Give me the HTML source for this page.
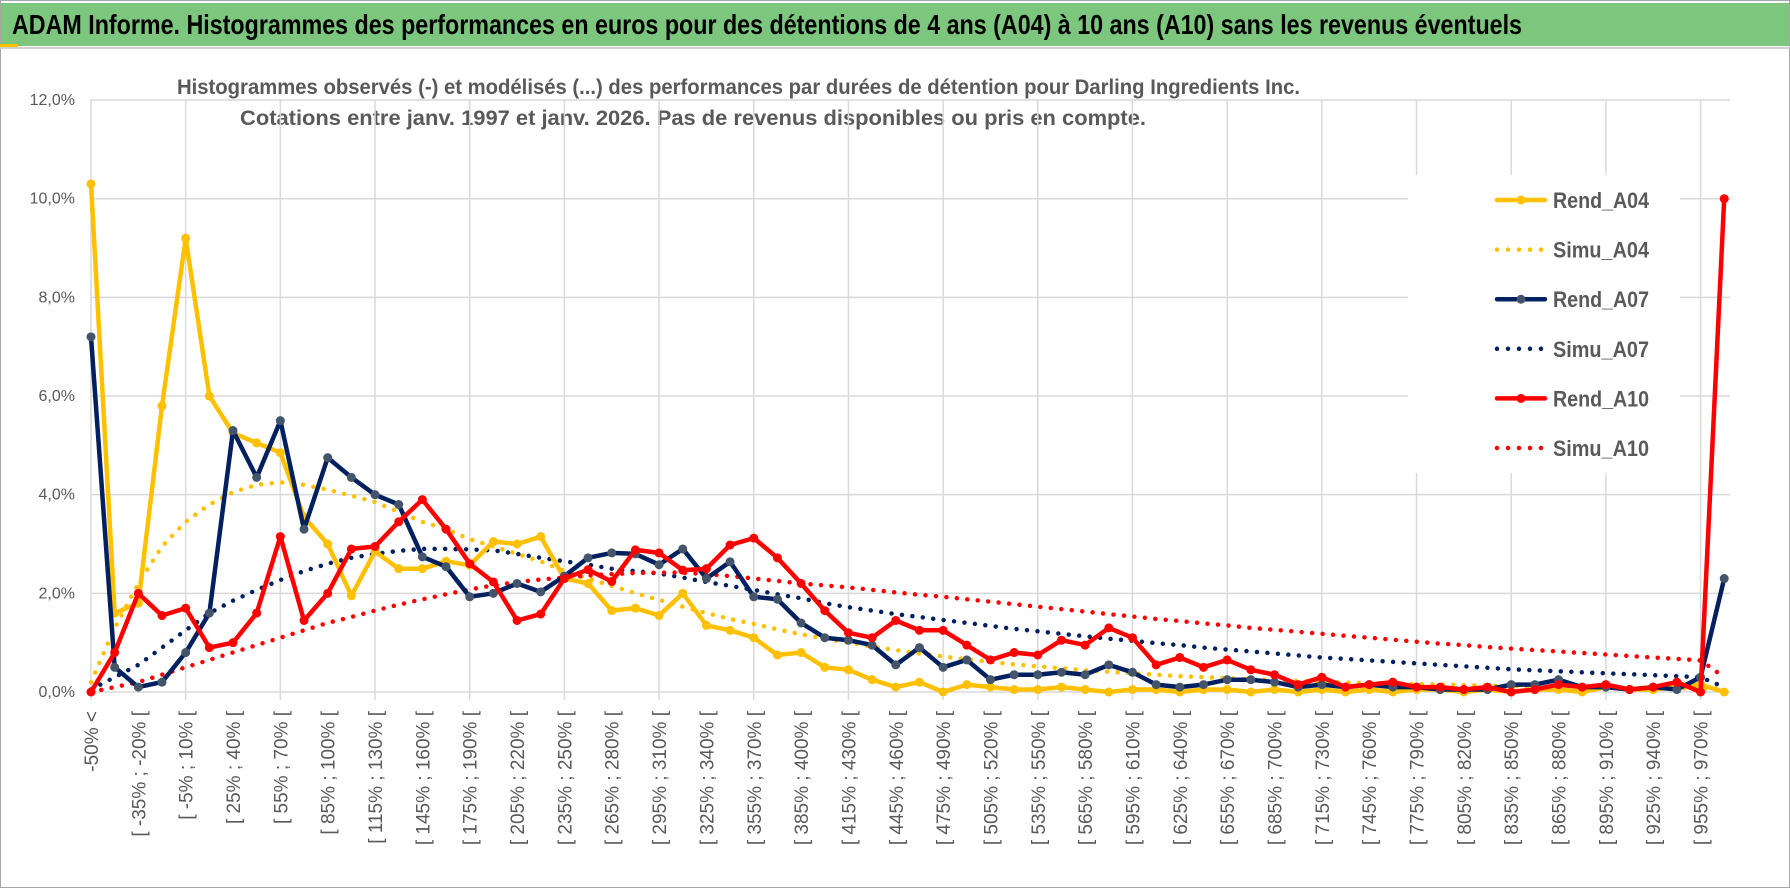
<!DOCTYPE html>
<html><head><meta charset="utf-8"><style>
html,body{margin:0;padding:0;background:#fff;}
svg{display:block;font-family:"Liberation Sans",sans-serif;}
</style></head><body>
<svg id="chart" width="1790" height="888" viewBox="0 0 1790 888">
<rect x="0.5" y="0.5" width="1789" height="887" fill="#fff" stroke="#a6a6a6"/>
<rect x="1" y="3" width="1788" height="43" fill="#7cc67e"/>
<rect x="0" y="44" width="18" height="4" fill="#ffc000"/>
<line x1="0" y1="48" x2="1790" y2="48" stroke="#d0d0d0" stroke-width="2"/>
<text x="12" y="34" font-size="28" font-weight="bold" fill="#000" textLength="1510" lengthAdjust="spacingAndGlyphs">ADAM Informe. Histogrammes des performances en euros pour des détentions de 4 ans (A04) à 10 ans (A10) sans les revenus éventuels</text>
<text x="177" y="94" font-size="21" font-weight="bold" fill="#595959" textLength="1123" lengthAdjust="spacingAndGlyphs">Histogrammes observés (-) et modélisés (...) des performances par durées de détention pour Darling Ingredients Inc.</text>
<text x="240" y="125" font-size="21" font-weight="bold" fill="#595959" textLength="906" lengthAdjust="spacingAndGlyphs">Cotations entre janv. 1997 et janv. 2026. Pas de revenus disponibles ou pris en compte.</text>
<g id="grid"></g>
<g id="yaxis"></g>
<g id="xaxis"></g>
<g id="series"></g>
<g id="legend"></g>
</svg>
<script>
const categories = ["-50% <","[ -50% ; -35% [","[ -35% ; -20% [","[ -20% ; -5% [","[ -5% ; 10% [","[ 10% ; 25% [","[ 25% ; 40% [","[ 40% ; 55% [","[ 55% ; 70% [","[ 70% ; 85% [","[ 85% ; 100% [","[ 100% ; 115% [","[ 115% ; 130% [","[ 130% ; 145% [","[ 145% ; 160% [","[ 160% ; 175% [","[ 175% ; 190% [","[ 190% ; 205% [","[ 205% ; 220% [","[ 220% ; 235% [","[ 235% ; 250% [","[ 250% ; 265% [","[ 265% ; 280% [","[ 280% ; 295% [","[ 295% ; 310% [","[ 310% ; 325% [","[ 325% ; 340% [","[ 340% ; 355% [","[ 355% ; 370% [","[ 370% ; 385% [","[ 385% ; 400% [","[ 400% ; 415% [","[ 415% ; 430% [","[ 430% ; 445% [","[ 445% ; 460% [","[ 460% ; 475% [","[ 475% ; 490% [","[ 490% ; 505% [","[ 505% ; 520% [","[ 520% ; 535% [","[ 535% ; 550% [","[ 550% ; 565% [","[ 565% ; 580% [","[ 580% ; 595% [","[ 595% ; 610% [","[ 610% ; 625% [","[ 625% ; 640% [","[ 640% ; 655% [","[ 655% ; 670% [","[ 670% ; 685% [","[ 685% ; 700% [","[ 700% ; 715% [","[ 715% ; 730% [","[ 730% ; 745% [","[ 745% ; 760% [","[ 760% ; 775% [","[ 775% ; 790% [","[ 790% ; 805% [","[ 805% ; 820% [","[ 820% ; 835% [","[ 835% ; 850% [","[ 850% ; 865% [","[ 865% ; 880% [","[ 880% ; 895% [","[ 895% ; 910% [","[ 910% ; 925% [","[ 925% ; 940% [","[ 940% ; 955% [","[ 955% ; 970% [","970% >"];
const yTicks = [0,2,4,6,8,10,12];
const yTickLabels = ["0,0%","2,0%","4,0%","6,0%","8,0%","10,0%","12,0%"];
const rendA04 = [10.3,1.6,1.8,5.8,9.2,6.0,5.25,5.05,4.85,3.55,3.0,1.95,2.85,2.5,2.5,2.65,2.57,3.05,3.0,3.15,2.3,2.2,1.65,1.7,1.55,2.0,1.35,1.25,1.1,0.75,0.8,0.5,0.45,0.25,0.1,0.2,0.0,0.15,0.1,0.05,0.05,0.1,0.05,0.0,0.05,0.05,0.0,0.05,0.05,0.0,0.05,0.0,0.05,0.0,0.05,0.0,0.05,0.05,0.0,0.05,0.0,0.05,0.05,0.0,0.1,0.05,0.05,0.1,0.15,0.0];
const simuA04 = [0.2,1.3,2.2,2.95,3.45,3.8,4.05,4.2,4.25,4.2,4.1,3.98,3.85,3.65,3.45,3.3,3.1,2.95,2.8,2.65,2.45,2.3,2.15,2.0,1.87,1.73,1.6,1.48,1.38,1.27,1.17,1.08,1.0,0.92,0.85,0.78,0.72,0.66,0.61,0.56,0.52,0.48,0.44,0.41,0.38,0.35,0.32,0.3,0.28,0.26,0.24,0.22,0.21,0.19,0.18,0.17,0.16,0.15,0.14,0.13,0.12,0.11,0.1,0.1,0.09,0.09,0.08,0.08,0.07,0.07];
const rendA07 = [7.2,0.5,0.1,0.2,0.8,1.6,5.3,4.35,5.5,3.3,4.75,4.35,4.0,3.8,2.74,2.54,1.93,2.0,2.2,2.03,2.35,2.72,2.82,2.8,2.58,2.9,2.3,2.64,1.93,1.88,1.4,1.1,1.05,0.95,0.55,0.9,0.5,0.65,0.25,0.35,0.35,0.4,0.35,0.55,0.4,0.15,0.1,0.15,0.25,0.25,0.2,0.1,0.15,0.1,0.15,0.1,0.1,0.05,0.05,0.05,0.15,0.15,0.25,0.1,0.1,0.05,0.1,0.05,0.3,2.3];
const simuA07 = [0.05,0.3,0.55,0.9,1.25,1.6,1.85,2.07,2.27,2.45,2.6,2.72,2.8,2.86,2.9,2.9,2.89,2.87,2.8,2.72,2.65,2.58,2.5,2.45,2.4,2.32,2.23,2.15,2.07,1.98,1.9,1.8,1.72,1.65,1.58,1.52,1.46,1.4,1.34,1.28,1.23,1.18,1.13,1.08,1.04,0.99,0.95,0.9,0.86,0.82,0.78,0.74,0.7,0.67,0.64,0.61,0.58,0.55,0.52,0.49,0.46,0.44,0.42,0.4,0.38,0.36,0.34,0.32,0.3,0.1];
const rendA10 = [0.0,0.8,2.0,1.55,1.7,0.9,1.0,1.6,3.15,1.45,2.0,2.9,2.95,3.45,3.9,3.3,2.6,2.23,1.45,1.58,2.3,2.48,2.24,2.88,2.82,2.47,2.5,2.98,3.12,2.72,2.2,1.65,1.2,1.1,1.45,1.25,1.25,0.95,0.65,0.8,0.75,1.05,0.95,1.3,1.1,0.55,0.7,0.5,0.65,0.45,0.35,0.15,0.3,0.1,0.15,0.2,0.1,0.1,0.05,0.1,0.0,0.05,0.15,0.1,0.15,0.05,0.1,0.2,0.0,10.0];
const simuA10 = [0.0,0.1,0.2,0.35,0.5,0.65,0.8,0.95,1.1,1.25,1.4,1.52,1.65,1.77,1.88,1.98,2.08,2.16,2.23,2.28,2.32,2.36,2.39,2.41,2.42,2.42,2.39,2.35,2.3,2.25,2.2,2.16,2.12,2.07,2.02,1.97,1.93,1.88,1.83,1.78,1.73,1.68,1.63,1.58,1.53,1.48,1.44,1.39,1.35,1.3,1.26,1.22,1.18,1.14,1.1,1.06,1.02,0.98,0.95,0.91,0.88,0.85,0.82,0.79,0.76,0.73,0.7,0.67,0.64,0.3];
const seriesNames = ["Rend_A04","Simu_A04","Rend_A07","Simu_A07","Rend_A10","Simu_A10"];

const NS="http://www.w3.org/2000/svg";
const X0=91, DX=23.67, Y0=692, PPU=49.33;
function xScale(i){return X0+i*DX;}
function yScale(v){return Y0-v*PPU;}
function mk(tag,attrs,parent){const e=document.createElementNS(NS,tag);for(const k in attrs)e.setAttribute(k,attrs[k]);parent.appendChild(e);return e;}

const grid=document.getElementById('grid');
yTicks.forEach((t,i)=>{
  const l=mk('line',{x1:X0,x2:1730,y1:yScale(t),y2:yScale(t),stroke:'#d9d9d9','stroke-width':1.5},grid);
  
  
  const tx=mk('text',{x:75,y:yScale(t)+5,'text-anchor':'end','font-size':16,fill:'#595959'},document.getElementById('yaxis'));
  tx.textContent=yTickLabels[i];
  
  
});
for(let i=0;i<categories.length;i+=4){
  const l=mk('line',{x1:xScale(i),x2:xScale(i),y1:yScale(12),y2:Y0+8,stroke:'#d9d9d9','stroke-width':1.5},grid);
  
  
}
const xaxis=document.getElementById('xaxis');
categories.forEach((c,i)=>{
  if(i%2!==0)return;
  const x=xScale(i)+7, y=711;
  const t=mk('text',{x:x,y:y,'text-anchor':'end','font-size':19,fill:'#595959',transform:`rotate(-90 ${x} ${y})`},xaxis);
  t.textContent=c;
  
  
});
const lg=document.getElementById('legend');
const lb=mk('rect',{x:1408,y:175,width:272,height:298,fill:'#fff'},grid);



const styles=[
 {data:rendA04,color:'#ffc000',marker:'#ffc000',dot:false},
 {data:simuA04,color:'#ffc000',dot:true},
 {data:rendA07,color:'#002060',marker:'#44546a',dot:false},
 {data:simuA07,color:'#002060',dot:true},
 {data:rendA10,color:'#ff0000',marker:'#ff0000',dot:false},
 {data:simuA10,color:'#ff0000',dot:true}
];
const sg=document.getElementById('series');
const order=[1,3,5,0,2,4];
order.forEach(k=>{
  const s=styles[k];
  const pts=s.data.map((v,i)=>xScale(i).toFixed(1)+','+yScale(v).toFixed(1)).join(' ');
  const g=mk('g',{},sg);
  
  
  const pl=mk('polyline',{points:pts,fill:'none',stroke:s.color,'stroke-width':4.5,'stroke-linejoin':'round','stroke-linecap':'round'},g);
  if(s.dot)pl.setAttribute('stroke-dasharray','0 10.5');
  
  
  if(!s.dot){
    s.data.forEach((v,i)=>{
      const c=mk('circle',{cx:xScale(i),cy:yScale(v),r:4.5,fill:s.marker},g);
      
      
    });
  }
});
seriesNames.forEach((n,k)=>{
  const s=styles[k]; const y=200+k*49.6;
  const g=mk('g',{},lg);
  
  
  const l=mk('line',{x1:1497,x2:1545,y1:y,y2:y,stroke:s.color,'stroke-width':4.5,'stroke-linecap':'round'},g);
  if(s.dot)l.setAttribute('stroke-dasharray','0 11');
  
  
  if(!s.dot){const c=mk('circle',{cx:1521,cy:y,r:4.5,fill:s.marker},g);
    
    }
  const t=mk('text',{x:1553,y:y+8,'font-size':22,'font-weight':'bold',fill:'#595959',textLength:96,lengthAdjust:'spacingAndGlyphs'},g);
  t.textContent=n;
  
  
});
</script>
</body></html>
